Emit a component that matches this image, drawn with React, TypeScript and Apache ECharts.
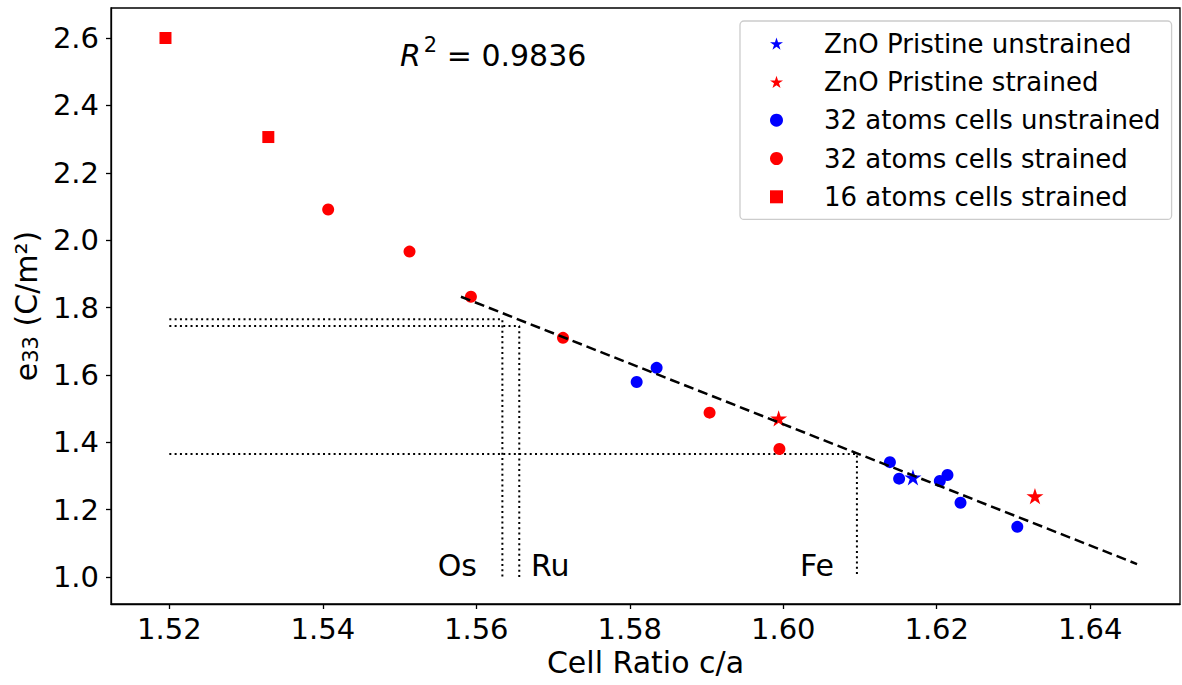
import React, { useEffect, useRef } from "react";
import * as echarts from "echarts";

// ---- data ----
const pristineUnstrained: number[][] = [[1.6169, 1.296]];
const pristineStrained: number[][] = [
  [1.5994, 1.471],
  [1.6328, 1.24],
];
const cells32Unstrained: number[][] = [
  [1.5809, 1.579],
  [1.5835, 1.621],
  [1.6139, 1.341],
  [1.6151, 1.292],
  [1.6204, 1.285],
  [1.6214, 1.303],
  [1.6231, 1.2205],
  [1.6305, 1.149],
];
const cells32Strained: number[][] = [
  [1.5407, 2.091],
  [1.5513, 1.966],
  [1.5593, 1.832],
  [1.5713, 1.71],
  [1.5904, 1.488],
  [1.5995, 1.38],
];
const cells16Strained: number[][] = [
  [1.5195, 2.6],
  [1.5329, 2.306],
];
const fitLine: number[][] = [
  [1.558, 1.832],
  [1.6461, 1.0386],
];
const osLine: number[][] = [
  [1.52, 1.765],
  [1.5634, 1.765],
  [1.5634, 1.0],
];
const ruLine: number[][] = [
  [1.52, 1.745],
  [1.5656, 1.745],
  [1.5656, 1.0],
];
const feLine: number[][] = [
  [1.52, 1.365],
  [1.6096, 1.365],
  [1.6096, 1.0],
];
const xTicks = [1.52, 1.54, 1.56, 1.58, 1.6, 1.62, 1.64];
const yTicks = [1.0, 1.2, 1.4, 1.6, 1.8, 2.0, 2.2, 2.4, 2.6];
const rSquared = "0.9836";

const FONT = "DejaVu Sans";

function makeStar(): string {
  const pts: string[] = [];
  for (let i = 0; i < 10; i++) {
    const r = i % 2 === 0 ? 1 : 0.381966;
    const a = (-90 + i * 36) * (Math.PI / 180);
    pts.push(`${(r * Math.cos(a)).toFixed(4)} ${(r * Math.sin(a)).toFixed(4)}`);
  }
  return "path://M" + pts.join(" L") + " Z";
}
const STAR = makeStar();

export default function App() {
  const ref = useRef<HTMLDivElement>(null);
  useEffect(() => {
    if (!ref.current) return;
    const chart = echarts.init(ref.current, undefined, { renderer: "svg" });
    const dotted = (name: string, data: number[][]) => ({
      name,
      type: "line",
      data,
      symbol: "none",
      silent: true,
      z: 1,
      lineStyle: { color: "#000", width: 2, type: [2, 3.3] },
    });
    const scatter = (name: string, data: number[][], symbol: string, size: number, color: string) => ({
      name,
      type: "scatter",
      data,
      symbol,
      symbolSize: size,
      symbolKeepAspect: true,
      itemStyle: { color, opacity: 1 },
      z: 3,
    });
    chart.setOption({
      animation: false,
      backgroundColor: "#fff",
      textStyle: { fontFamily: FONT },
      grid: {
        left: 111,
        top: 8,
        right: 2,
        bottom: 81,
        show: true,
        borderColor: "#000",
        borderWidth: 1.3,
        containLabel: false,
      },
      xAxis: {
        type: "value",
        min: 1.5124,
        max: 1.6517,
        name: "Cell Ratio c/a",
        nameLocation: "middle",
        nameGap: 38,
        nameTextStyle: { fontSize: 30, color: "#000", fontFamily: FONT },
        axisLine: { show: true, onZero: false, lineStyle: { color: "#000", width: 1.3 } },
        axisTick: { show: true, length: 5, lineStyle: { color: "#000", width: 1.3 }, customValues: xTicks },
        axisLabel: {
          fontSize: 29,
          color: "#000",
          fontFamily: FONT,
          margin: 10,
          customValues: xTicks,
          formatter: (v: number) => v.toFixed(2),
        },
        splitLine: { show: false },
      },
      yAxis: {
        type: "value",
        min: 0.92,
        max: 2.689,
        name: "e{sub|33} (C/m²)",
        nameLocation: "middle",
        nameRotate: 90,
        nameGap: 60,
        nameTextStyle: {
          fontSize: 30,
          color: "#000",
          fontFamily: FONT,
          rich: {
            sub: { fontSize: 21, color: "#000", fontFamily: FONT, verticalAlign: "bottom", padding: [8, 0, 0, 0] },
          },
        },
        axisLine: { show: true, onZero: false, lineStyle: { color: "#000", width: 1.3 } },
        axisTick: { show: true, length: 5, lineStyle: { color: "#000", width: 1.3 }, customValues: yTicks },
        axisLabel: {
          fontSize: 29,
          color: "#000",
          fontFamily: FONT,
          margin: 12,
          customValues: yTicks,
          formatter: (v: number) => v.toFixed(1),
        },
        splitLine: { show: false },
      },
      legend: {
        orient: "vertical",
        left: 740,
        top: 21,
        padding: [7.6, 11, 7.6, 30],
        itemGap: 8.3,
        itemWidth: 13,
        itemHeight: 13,
        backgroundColor: "#fff",
        borderColor: "#cccccc",
        borderWidth: 1.3,
        borderRadius: 4,
        selectedMode: false,
        textStyle: { fontSize: 26, color: "#000", fontFamily: FONT, lineHeight: 30, padding: [0, 0, 0, 36] },
        data: [
          { name: "ZnO Pristine unstrained", icon: STAR },
          { name: "ZnO Pristine strained", icon: STAR },
          { name: "32 atoms cells unstrained", icon: "circle" },
          { name: "32 atoms cells strained", icon: "circle" },
          { name: "16 atoms cells strained", icon: "rect" },
        ],
      },
      graphic: [
        {
          type: "text",
          left: 400,
          top: 34,
          style: {
            text: "{it|R}{sup|2}{n| = 0.9836}".replace("0.9836", rSquared),
            rich: {
              it: { fontSize: 30, fontStyle: "italic", fontFamily: FONT, fill: "#000", verticalAlign: "bottom", lineHeight: 36 },
              sup: { fontSize: 21, fontFamily: FONT, fill: "#000", verticalAlign: "top", lineHeight: 36, padding: [0, 0, 0, 3] },
              n: { fontSize: 30, fontFamily: FONT, fill: "#000", verticalAlign: "bottom", lineHeight: 36 },
            },
          },
        },
        { type: "text", x: 477, y: 565, style: { text: "Os", font: `30px '${FONT}'`, fill: "#000", align: "right", verticalAlign: "middle" } },
        { type: "text", x: 531, y: 565, style: { text: "Ru", font: `30px '${FONT}'`, fill: "#000", align: "left", verticalAlign: "middle" } },
        { type: "text", x: 834, y: 565, style: { text: "Fe", font: `30px '${FONT}'`, fill: "#000", align: "right", verticalAlign: "middle" } },
      ],
      series: [
        dotted("Os", osLine),
        dotted("Ru", ruLine),
        dotted("Fe", feLine),
        scatter("ZnO Pristine unstrained", pristineUnstrained, STAR, 17, "#0000ff"),
        scatter("ZnO Pristine strained", pristineStrained, STAR, 17, "#ff0000"),
        scatter("32 atoms cells unstrained", cells32Unstrained, "circle", 12, "#0000ff"),
        scatter("32 atoms cells strained", cells32Strained, "circle", 12, "#ff0000"),
        scatter("16 atoms cells strained", cells16Strained, "rect", 12, "#ff0000"),
        {
          name: "fit",
          type: "line",
          data: fitLine,
          symbol: "none",
          silent: true,
          z: 5,
          lineStyle: { color: "#000", width: 2.5, type: [10, 5] },
        },
      ],
    });
    return () => chart.dispose();
  }, []);
  return <div ref={ref} style={{ position: "absolute", left: 0, top: 0, width: 1182, height: 685 }} />;
}
